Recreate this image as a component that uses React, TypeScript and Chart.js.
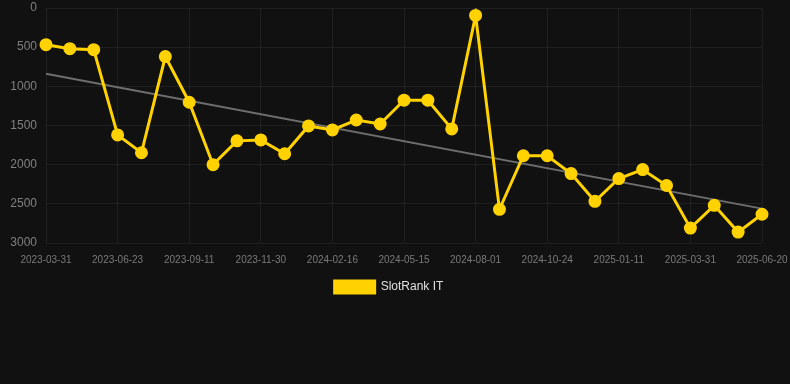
import React, { useEffect, useRef } from "react";
import { Chart, registerables } from "chart.js";

Chart.register(...registerables);

const dates = [
  "2023-03-31", "2023-04-28", "2023-05-26", "2023-06-23", "2023-07-20", "2023-08-16",
  "2023-09-11", "2023-10-08", "2023-11-03", "2023-11-30", "2023-12-26", "2024-01-21",
  "2024-02-16", "2024-03-15", "2024-04-15", "2024-05-15", "2024-06-10", "2024-07-06",
  "2024-08-01", "2024-08-29", "2024-09-26", "2024-10-24", "2024-11-19", "2024-12-16",
  "2025-01-11", "2025-02-06", "2025-03-05", "2025-03-31", "2025-04-27", "2025-05-24",
  "2025-06-20",
];

const slotRankIT = [
  468, 519, 532, 1620, 1848, 620, 1203, 2000, 1696, 1684, 1861, 1506, 1557, 1430, 1481,
  1177, 1177, 1544, 95, 2570, 1886, 1886, 2114, 2468, 2177, 2063, 2266, 2810, 2519, 2861, 2633,
];

const trendStart = 838;
const trendEnd = 2561;

const yTicks = [0, 500, 1000, 1500, 2000, 2500, 3000];

export default function App() {
  const canvasRef = useRef<HTMLCanvasElement | null>(null);

  useEffect(() => {
    document.body.style.margin = "0";
    document.body.style.background = "#111111";
    const trend = dates.map((_, i) =>
      i === 0 ? trendStart : i === dates.length - 1 ? trendEnd : null
    );
    const chart = new Chart(canvasRef.current as HTMLCanvasElement, {
      type: "line",
      data: {
        labels: dates,
        datasets: [
          {
            label: "SlotRank IT",
            data: slotRankIT,
            borderColor: "#FFD200",
            backgroundColor: "#FFD200",
            borderWidth: 3,
            pointRadius: 5,
            pointHoverRadius: 5,
            pointBackgroundColor: "#FFD200",
            pointBorderColor: "#FFD200",
            tension: 0,
            order: 1,
          },
          {
            label: "Trend",
            data: trend,
            borderColor: "#6e6e6e",
            backgroundColor: "#6e6e6e",
            borderWidth: 2,
            pointRadius: 0,
            spanGaps: true,
            order: 2,
          },
        ],
      },
      options: {
        animation: false,
        responsive: true,
        maintainAspectRatio: false,
        layout: { padding: { top: 0, bottom: 81, left: 0, right: 12 } },
        font: { family: "Arial, 'Liberation Sans', sans-serif" } as any,
        scales: {
          x: {
            afterFit: (axis: any) => {
              axis.paddingLeft = 0;
              axis.paddingRight = 28;
            },
            grid: { color: "rgba(255,255,255,0.06)", drawTicks: false },
            border: { display: false },
            ticks: {
              color: "#7a7a7a",
              font: { size: 10, family: "Arial, 'Liberation Sans', sans-serif" },
              maxRotation: 0,
              autoSkip: true,
              maxTicksLimit: 11,
              padding: 11,
            },
          },
          y: {
            reverse: true,
            min: 0,
            max: 3000,
            afterBuildTicks: (axis: any) => {
              axis.ticks = yTicks.map((v) => ({ value: v }));
            },
            afterFit: (axis: any) => {
              axis.width = 46;
              axis.paddingTop = 5;
              axis.paddingBottom = 0;
            },
            grid: { color: "rgba(255,255,255,0.06)", drawTicks: false },
            border: { display: false },
            ticks: {
              color: "#808080",
              font: { size: 12, family: "Arial, 'Liberation Sans', sans-serif" },
              padding: 9,
              callback: (v: any) => String(v),
            },
          },
        },
        plugins: {
          legend: {
            position: "bottom",
            labels: {
              color: "#e0e0e0",
              font: { size: 12, family: "Arial, 'Liberation Sans', sans-serif" },
              boxWidth: 40,
              boxHeight: 12,
              padding: 4,
              filter: (item: any) => item.text === "SlotRank IT",
            },
          },
          tooltip: { enabled: false },
        },
      },
    });
    return () => chart.destroy();
  }, []);

  return (
    <div style={{ width: 790, height: 384, background: "#111111", position: "relative" }}>
      <canvas ref={canvasRef} />
    </div>
  );
}
